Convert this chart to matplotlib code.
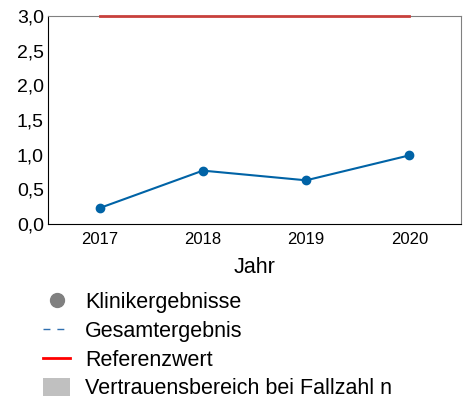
import matplotlib
matplotlib.use('Agg')
import matplotlib.pyplot as plt
from matplotlib.lines import Line2D
from matplotlib.patches import Patch

plt.rcParams['font.family'] = ['Liberation Sans', 'DejaVu Sans']

# Data
years = [2017, 2018, 2019, 2020]
values = [0.23, 0.77, 0.63, 0.99]
ref_value = 3.0
y_ticks = [0.0, 0.5, 1.0, 1.5, 2.0, 2.5, 3.0]
y_labels = ['0,0', '0,5', '1,0', '1,5', '2,0', '2,5', '3,0']
legend_labels = ['Klinikergebnisse', 'Gesamtergebnis', 'Referenzwert',
                 'Vertrauensbereich bei Fallzahl n']

fig = plt.figure(figsize=(4.63, 4.05), dpi=100)
ax = fig.add_axes([48 / 463, 1 - 224 / 405, (461 - 48) / 463, (224 - 16) / 405])

# Reference line and results
ax.plot(years, [ref_value] * len(years), color='#c8403c', linewidth=2, clip_on=False, zorder=3)
ax.plot(years, values, color='#0063a6', linewidth=1.5, marker='o', markersize=6, zorder=4)

ax.set_xlim(2016.5, 2020.5)
ax.set_ylim(0, 3.0)
ax.set_xticks(years)
ax.set_xticklabels([str(y) for y in years], fontsize=12)
ax.set_yticks(y_ticks)
ax.set_yticklabels(y_labels, fontsize=14)
ax.tick_params(axis='y', length=0, pad=3)
ax.tick_params(axis='x', length=0, pad=6)
ax.set_xlabel('Jahr', fontsize=15.5, labelpad=7)

for side in ['top', 'right']:
    ax.spines[side].set_color('#808080')
for side in ['left', 'bottom']:
    ax.spines[side].set_color('black')

# Legend below the plot
handles = [
    Line2D([], [], linestyle='none', marker='o', markersize=10, color='#808080'),
    Line2D([], [], linestyle=(0, (5, 5)), linewidth=1, color='#3070b0'),
    Line2D([], [], linestyle='-', linewidth=2, color='#ff0000'),
    Patch(facecolor='#c0c0c0', edgecolor='none'),
]
fig.legend(handles, legend_labels, loc='upper left', bbox_to_anchor=(0.093, 0.279),
           frameon=False, fontsize=15.5, handlelength=1.25, handleheight=0.9,
           handletextpad=0.7, labelspacing=0.34, borderaxespad=0, borderpad=0)

fig.savefig('out.png', dpi=100)
